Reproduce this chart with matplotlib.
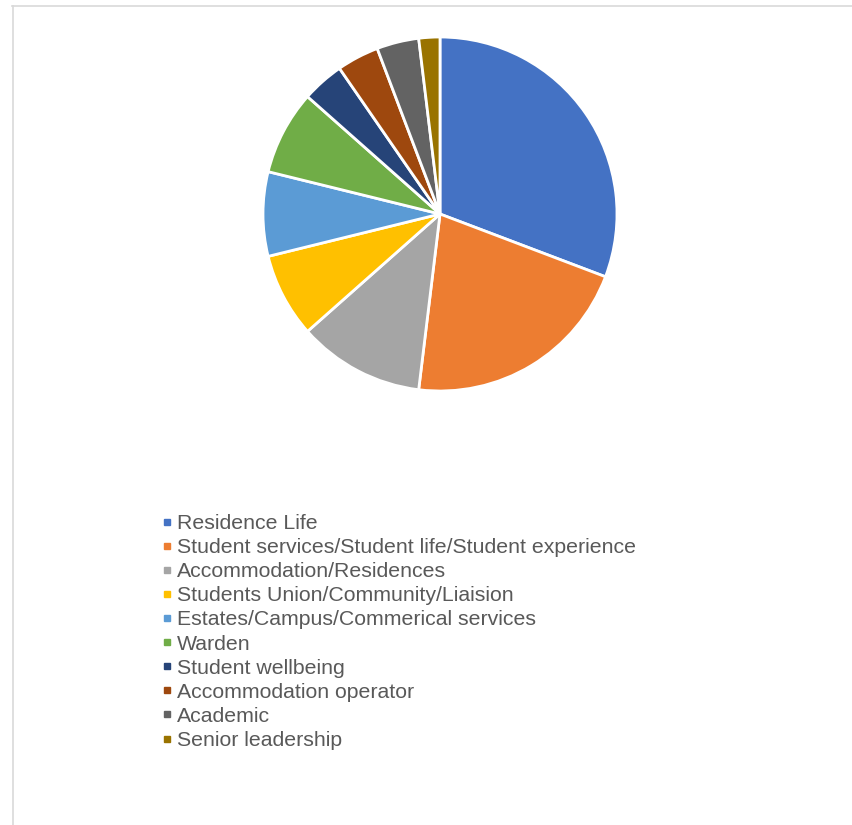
import matplotlib.pyplot as plt
from matplotlib.lines import Line2D

# respondents by role
labels = ['Residence Life',
          'Student services/Student life/Student experience',
          'Accommodation/Residences',
          'Students Union/Community/Liaision',
          'Estates/Campus/Commerical services',
          'Warden',
          'Student wellbeing',
          'Accommodation operator',
          'Academic',
          'Senior leadership']
counts = [16, 11, 6, 4, 4, 4, 2, 2, 2, 1]
colors = ['#4472C4', '#ED7D31', '#A5A5A5', '#FFC000', '#5B9BD5',
          '#70AD47', '#264478', '#9E480E', '#636363', '#997300']

W, H = 852, 825
fig = plt.figure(figsize=(W / 100, H / 100), dpi=100)
plt.rcParams['font.family'] = ['Liberation Sans', 'DejaVu Sans']

# pie centre and radius in pixels
cx, cy, r = 440, 214, 177
ax = fig.add_axes([(cx - r) / W, (H - cy - r) / H, 2 * r / W, 2 * r / H])
ax.pie(counts, colors=colors, startangle=90, counterclock=False,
       wedgeprops=dict(edgecolor='white', linewidth=2))
ax.set_xlim(-1, 1)
ax.set_ylim(-1, 1)
ax.set_aspect('equal')
ax.axis('off')

# chart area border (cut off on the right and bottom)
fig.add_artist(Line2D([12.5 / W, 12.5 / W], [0, 1 - 6 / H], transform=fig.transFigure,
                      color='#d9d9d9', linewidth=1.2))
fig.add_artist(Line2D([12 / W, 1], [1 - 6 / H, 1 - 6 / H], transform=fig.transFigure,
                      color='#d9d9d9', linewidth=1.2))

handles = [Line2D([], [], marker='s', linestyle='none', markersize=5,
                  markerfacecolor=c, markeredgecolor=c) for c in colors]
fig.legend(handles, labels, loc='center left', bbox_to_anchor=(162 / W, 1 - 632 / H),
           frameon=False, fontsize=15.3, handlelength=0.45, handletextpad=0.25,
           labelspacing=0.24, borderpad=0, borderaxespad=0, labelcolor='#595959')

fig.savefig('out.png', dpi=100, facecolor='white')
